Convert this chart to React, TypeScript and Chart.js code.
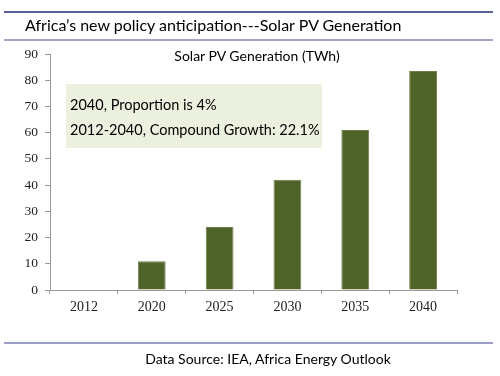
import React, { useEffect, useRef } from "react";
import { Chart, registerables } from "chart.js";

Chart.register(...registerables);

const years = ["2012", "2020", "2025", "2030", "2035", "2040"];
const solarPV = [0, 11, 24, 42, 61, 83.5];
const yTicks = [0, 10, 20, 30, 40, 50, 60, 70, 80, 90];
const pageTitle = "Africa’s new policy anticipation---Solar PV Generation";
const chartTitle = "Solar PV Generation (TWh)";
const noteLines = ["2040, Proportion is 4%", "2012-2040, Compound Growth: 22.1%"];
const sourceText = "Data Source: IEA, Africa Energy Outlook";

const SANS = "Lato, 'Open Sans', sans-serif";
const SERIF = "'Liberation Serif', 'Times New Roman', serif";

const noteBox = {
  id: "noteBox",
  beforeDatasetsDraw(chart: any) {
    const ctx = chart.ctx;
    ctx.save();
    ctx.fillStyle = "#ebf1de";
    ctx.fillRect(66, 84, 256, 64);
    ctx.restore();
  },
};

export default function App() {
  const ref = useRef<HTMLCanvasElement | null>(null);
  useEffect(() => {
    if (!ref.current) return;
    const chart = new Chart(ref.current, {
      type: "bar",
      data: {
        labels: years,
        datasets: [
          {
            data: solarPV,
            backgroundColor: "#4f6228",
            borderColor: "#6f7f4c",
            borderWidth: 1,
            categoryPercentage: 1,
            barPercentage: 0.41,
          },
        ],
      },
      plugins: [noteBox],
      options: {
        animation: false,
        responsive: false,
        maintainAspectRatio: false,
        layout: { padding: { left: 0, top: 54, right: 43, bottom: 56 } },
        plugins: { legend: { display: false }, tooltip: { enabled: false }, title: { display: false } },
        scales: {
          x: {
            grid: { display: true, drawOnChartArea: false, drawTicks: true, tickLength: 4, color: "#999", offset: true },
            border: { display: true, color: "#999", width: 1 },
            ticks: { color: "#222", padding: 5, font: { family: SERIF, size: 14 } },
            afterFit: (s: any) => { s.height = 30; },
          },
          y: {
            min: 0,
            max: 90,
            afterBuildTicks: (s: any) => { s.ticks = yTicks.map((v) => ({ value: v })); },
            grid: { display: true, drawOnChartArea: false, drawTicks: true, tickLength: 5, color: "#999" },
            border: { display: true, color: "#999", width: 1 },
            ticks: { color: "#222", padding: 7, font: { family: SERIF, size: 13.5 } },
            afterFit: (s: any) => { s.width = 50; },
          },
        },
      },
    });
    return () => chart.destroy();
  }, []);

  const abs = (style: React.CSSProperties): React.CSSProperties => ({ position: "absolute", ...style });

  return (
    <div style={{ position: "fixed", left: 0, top: 0, width: 500, height: 376, background: "#fff", overflow: "hidden" }}>
      <canvas ref={ref} width={500} height={376} style={{ position: "absolute", left: 0, top: 0, width: 500, height: 376 }} />
      <div style={abs({ left: 4, top: 11, width: 489, height: 2, background: "#5a5f9a" })} />
      <div style={abs({ left: 4, top: 39, width: 489, height: 2, background: "#a3a6c4" })} />
      <div style={abs({ left: 4, top: 342, width: 489, height: 2, background: "#9b9ec6" })} />
      <div style={abs({ left: 25, top: 15, fontFamily: SANS, fontSize: 16, lineHeight: "20px", color: "#000", whiteSpace: "nowrap" })}>{pageTitle}</div>
      <div style={abs({ left: 0, width: 514, top: 47, textAlign: "center", fontFamily: SANS, fontSize: 14, lineHeight: "18px", color: "#000", whiteSpace: "nowrap" })}>{chartTitle}</div>
      <div style={abs({ left: 70, top: 95, fontFamily: SANS, fontSize: 14.5, lineHeight: "20px", color: "#000", whiteSpace: "nowrap" })}>{noteLines[0]}</div>
      <div style={abs({ left: 70, top: 120, fontFamily: SANS, fontSize: 14.5, lineHeight: "20px", color: "#000", whiteSpace: "nowrap" })}>{noteLines[1]}</div>
      <div style={abs({ left: 0, width: 536, top: 350, textAlign: "center", fontFamily: SANS, fontSize: 14, lineHeight: "18px", color: "#000", whiteSpace: "nowrap" })}>{sourceText}</div>
    </div>
  );
}
